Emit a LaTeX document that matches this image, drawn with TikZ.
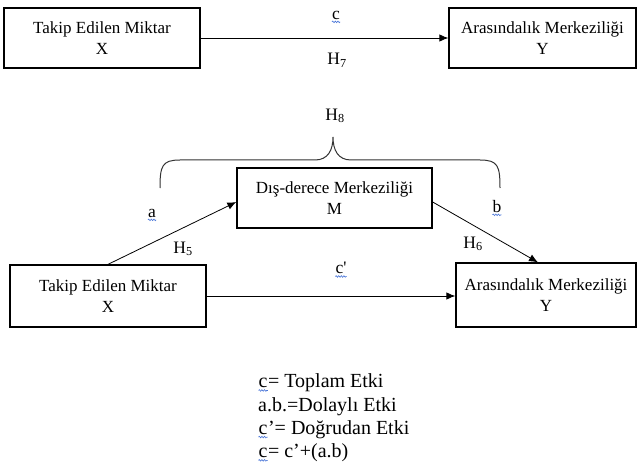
\documentclass[tikz,border=0pt]{standalone}
\usepackage{fontspec}
\setmainfont{Liberation Serif}
\usepackage{tikz}
\usetikzlibrary{arrows.meta,positioning,calc,decorations.pathmorphing}
\definecolor{wavecol}{RGB}{70,115,215}
\newcommand{\wv}[1]{\tikz[baseline=(w.base)]{\node[inner sep=0pt] (w) {#1};
  \draw[wavecol, line width=.6pt, decorate, decoration={snake, amplitude=.8pt, segment length=2.6pt}]
  ([yshift=-2.6pt]w.base west) -- ([yshift=-2.6pt]w.base east);}}

\begin{document}
\begin{tikzpicture}[x = 1pt, y = -1pt,
  box/.style = {draw, line width=1.3pt, align=center, inner sep=2pt,
    font=\fontsize{17}{20.5}\selectfont},
  lbl/.style = {font=\fontsize{17.5}{20}\selectfont, inner sep=1pt},
  arr/.style = {-{Latex[length=9pt, width=7.5pt]}, line width=.8pt}]
\useasboundingbox (0,0) rectangle (640,468);

\node[box, minimum width=196pt, minimum height=60pt] (tx) at (102, 38) {Takip Edilen Miktar\\X};
\node[box, minimum width=187pt, minimum height=60pt] (ty) at (542.5, 38) {Arasındalık Merkeziliği\\Y};
\node[box, minimum width=195pt, minimum height=60pt] (m) at (334.5, 198) {Dış-derece Merkeziliği\\M};
\node[box, minimum width=196pt, minimum height=62pt] (bx) at (108, 296) {Takip Edilen Miktar\\X};
\node[box, minimum width=180pt, minimum height=64pt] (by) at (546, 295) {Arasındalık Merkeziliği\\Y};

\draw[arr] (tx) -- (ty);
\draw[arr] (bx.east) -- (by.west |- bx.east);
\draw[arr] (bx.north) -- ([yshift=-4pt]m.west);
\draw[arr] ([yshift=-4pt]m.east) -- ([xshift=-8pt]by.north);

% brace over the indirect path
\draw[line width=1pt, black!80] (160,188) .. controls (160,166) and (162,160) .. (180,160) -- (315,160)
  .. controls (328,160) and (333,150) .. (333,137) .. controls (333,150) and (338,160) .. (351,160)
  -- (480,160) .. controls (498,160) and (500,166) .. (500,188);

\node[lbl] (c) at (336, 17) {\wv{c}};
\node[lbl] (h7) at (337, 60) {H\textsubscript{7}};
\node[lbl] (h8) at (335, 116) {H\textsubscript{8}};
\node[lbl] (a) at (152, 215) {\wv{a}};
\node[lbl] (b) at (497, 208) {\wv{b}};
\node[lbl] (h5) at (183, 249) {H\textsubscript{5}};
\node[lbl] (h6) at (473, 244) {H\textsubscript{6}};
\node[lbl] (cp) at (341, 270) {\wv{c\textquotesingle}};

\node[anchor=west, align=left, inner sep=0pt, font=\fontsize{20}{23.3}\selectfont] (legend) at (258, 418)
  {\wv{c}= Toplam Etki\\a.b.=Dolaylı Etki\\\wv{c}’= Doğrudan Etki\\\wv{c}= c’+(a.b)};

\end{tikzpicture}
\end{document}
